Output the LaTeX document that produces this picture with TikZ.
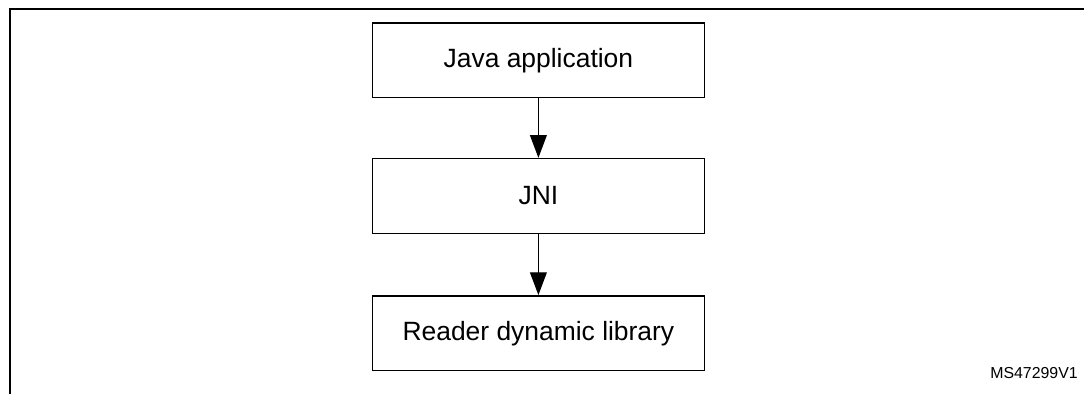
\documentclass[tikz,border=0pt]{standalone}
\usepackage{fontspec}
\setmainfont{Liberation Sans}
\usetikzlibrary{arrows.meta}

\begin{document}
\begin{tikzpicture}[
  layerbox/.style={draw=black, line width=1pt, minimum width=8.3cm, minimum height=1.87cm,
    inner sep=0pt, font=\fontsize{18.8}{22}\selectfont},
  layerarrow/.style={draw=black, line width=1pt, -{Triangle[width=0.42cm,length=0.57cm]}},
  refnote/.style={inner sep=0pt, font=\fontsize{11.3}{13}\selectfont}]
\useasboundingbox (0,0) rectangle (27.1,-9.85);
% frame
\draw [black, line width=2pt] (0.25,-9.85) -- (0.25,-0.225) -- (27.1,-0.225);
% layers
\node [layerbox] (java) at (13.46,-1.51) {Java application};
\node [layerbox] (jni) at (13.46,-4.9) {JNI};
\node [layerbox] (reader) at (13.46,-8.33) {Reader dynamic library};
\draw [layerarrow] (java) -- (jni);
\draw [layerarrow] (jni) -- (reader);
\node [refnote, anchor=east] (ref) at (26.95,-9.33) {MS47299V1};
\end{tikzpicture}
\end{document}
